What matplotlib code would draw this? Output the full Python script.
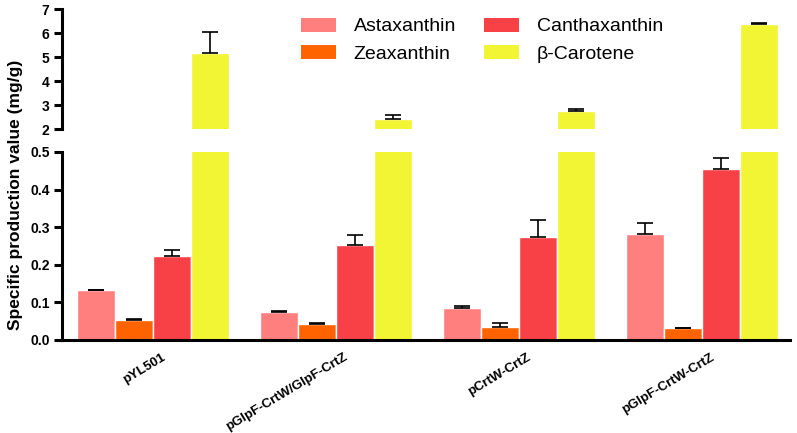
import numpy as np
import matplotlib
matplotlib.use('Agg')
import matplotlib.pyplot as plt
import matplotlib.transforms as mtransforms
from matplotlib.patches import Patch

plt.rcParams['font.family'] = ['Liberation Sans', 'DejaVu Sans']

# 数据
strains = ['pYL501', 'pGlpF-CrtW/GlpF-CrtZ', 'pCrtW-CrtZ', 'pGlpF-CrtW-CrtZ']
pigments = ['Astaxanthin', 'Zeaxanthin', 'Canthaxanthin', 'β-Carotene']
astaxanthin = [0.132, 0.074, 0.084, 0.283]
astaxanthin_err = [0.002, 0.004, 0.007, 0.028]
zeaxanthin = [0.053, 0.043, 0.034, 0.031]
zeaxanthin_err = [0.002, 0.002, 0.010, 0.002]
canthaxanthin = [0.223, 0.253, 0.273, 0.454]
canthaxanthin_err = [0.016, 0.026, 0.045, 0.031]
carotene = [5.15, 2.40, 2.76, 6.36]
carotene_err = [0.90, 0.18, 0.07, 0.07]

colors = ['#FF7F7F', '#FF6300', '#F84146', '#F2F533']
values = [astaxanthin, zeaxanthin, canthaxanthin, carotene]
errors = [astaxanthin_err, zeaxanthin_err, canthaxanthin_err, carotene_err]

fig = plt.figure(figsize=(7.97, 4.33), dpi=100)
ax_top = fig.add_axes([0.0778, 0.702, 0.913, 0.277])
ax_bot = fig.add_axes([0.0778, 0.2148, 0.913, 0.4342])

x = np.arange(len(strains))
w = 0.2077

for ax in (ax_top, ax_bot):
    for i in range(4):
        pos = x + (i - 1.5) * w
        ax.bar(pos, values[i], w, color=colors[i], edgecolor='white', linewidth=1.0,
               zorder=2)
        ax.errorbar(pos, values[i], yerr=[np.zeros(4), errors[i]], fmt='none',
                    ecolor='black', elinewidth=1.2, capsize=6, capthick=1.2, zorder=3)
    ax.set_xlim(-0.497, 3.48)
    for s in ('top', 'right'):
        ax.spines[s].set_visible(False)
    ax.spines['left'].set_linewidth(2.2)
    ax.tick_params(axis='y', width=2.2, length=6, labelsize=10, pad=3)

# 上半部分
ax_top.set_ylim(2, 7)
ax_top.set_yticks([2, 3, 4, 5, 6, 7])
ax_top.set_yticklabels(['2', '3', '4', '5', '6', '7'], fontweight='bold')
ax_top.spines['bottom'].set_visible(False)
ax_top.set_xticks([])

# 下半部分
ax_bot.set_ylim(0, 0.5)
ax_bot.set_yticks([0.0, 0.1, 0.2, 0.3, 0.4, 0.5])
ax_bot.set_yticklabels(['0.0', '0.1', '0.2', '0.3', '0.4', '0.5'], fontweight='bold')
ax_bot.spines['bottom'].set_linewidth(2.2)
ax_bot.set_xticks(x)
ax_bot.set_xticklabels([])
ax_bot.tick_params(axis='x', length=0)

# x轴标签（斜体放置）
offset = mtransforms.ScaledTranslation(8 / 100, -11 / 100, fig.dpi_scale_trans)
for xi, name in zip(x, strains):
    ax_bot.text(xi, 0, name, transform=ax_bot.get_xaxis_transform() + offset,
                rotation=31, rotation_mode='anchor', ha='right', va='top',
                fontsize=9.5, fontweight='bold')

fig.text(0.019, 0.55, 'Specific production value (mg/g)', rotation=90,
         ha='center', va='center', fontsize=12.5, fontweight='bold')

# 图例
handles = [Patch(facecolor=c, edgecolor='none') for c in colors]
fig.legend(handles, pigments, ncol=2, loc='upper center',
           bbox_to_anchor=(0.605, 0.995), frameon=False, fontsize=14,
           handlelength=1.8, handleheight=0.72, columnspacing=1.45,
           labelspacing=0.5, handletextpad=0.9, borderpad=0.3)

fig.savefig('out.png', dpi=100)
